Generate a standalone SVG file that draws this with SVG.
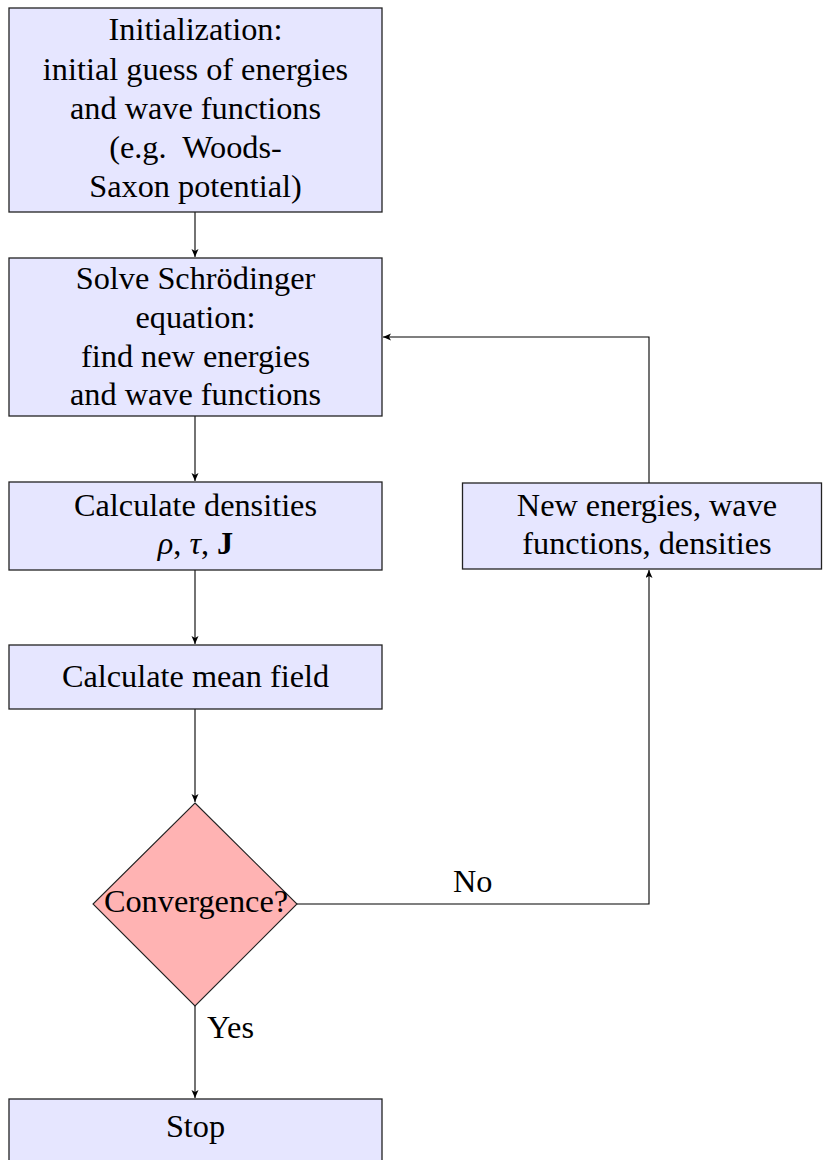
<svg xmlns="http://www.w3.org/2000/svg" width="823" height="1160" viewBox="0 0 823 1160">
<defs>
<marker id="arr" markerUnits="userSpaceOnUse" markerWidth="10" markerHeight="8" refX="8" refY="3.5" orient="auto">
<path d="M0,0 L8,3.5 L0,7 L2,3.5 z" fill="#000"/>
</marker>
<style>
.box{fill:#E6E6FF;stroke:#222;stroke-width:1.3}
.dia{fill:#FFB3B3;stroke:#222;stroke-width:1.1}
text{font-family:'Liberation Serif','Times New Roman',Times,serif;font-size:32.3px;fill:#000}
.t{text-anchor:middle}
.c{fill:none;stroke:#000;stroke-width:1.1}
</style>
</defs>
<rect width="823" height="1160" fill="#fff"/>
<g id="connectors">
<line class="c" x1="195" y1="212" x2="195" y2="257" marker-end="url(#arr)"/>
<line class="c" x1="195" y1="416" x2="195" y2="481" marker-end="url(#arr)"/>
<line class="c" x1="195" y1="570" x2="195" y2="644" marker-end="url(#arr)"/>
<line class="c" x1="195" y1="709" x2="195" y2="802" marker-end="url(#arr)"/>
<line class="c" x1="195" y1="1006" x2="195" y2="1098" marker-end="url(#arr)"/>
<polyline class="c" points="297,904 649,904 649,570" marker-end="url(#arr)"/>
<polyline class="c" points="649,483 649,337 383,337" marker-end="url(#arr)"/>
<text x="207" y="1038">Yes</text>
<text x="453" y="892">No</text>
</g>
<g id="init">
<rect class="box" x="9" y="8" width="373" height="204"/>
<text class="t" x="195.5" y="40">Initialization:</text>
<text class="t" x="195.5" y="79.5">initial guess of energies</text>
<text class="t" x="195.5" y="118.5">and wave functions</text>
<text class="t" x="195.5" y="157.5" xml:space="preserve">(e.g.  Woods-</text>
<text class="t" x="195.5" y="196.5">Saxon potential)</text>
</g>
<g id="solve">
<rect class="box" x="9" y="258" width="373" height="158"/>
<text class="t" x="195.5" y="289">Solve Schrödinger</text>
<text class="t" x="195.5" y="328">equation:</text>
<text class="t" x="195.5" y="367">find new energies</text>
<text class="t" x="195.5" y="405">and wave functions</text>
</g>
<g id="densities">
<rect class="box" x="9" y="482" width="373" height="88"/>
<text class="t" x="195.5" y="515.5">Calculate densities</text>
<text class="t" x="195.5" y="554"><tspan font-style="italic">ρ</tspan>, <tspan font-style="italic">τ</tspan>, <tspan font-weight="bold">J</tspan></text>
</g>
<g id="meanfield">
<rect class="box" x="9" y="645" width="373" height="64"/>
<text class="t" x="195.5" y="687">Calculate mean field</text>
</g>
<g id="newvals">
<rect class="box" x="462.5" y="483" width="359" height="86"/>
<text class="t" x="647" y="515.5">New energies, wave</text>
<text class="t" x="647" y="554">functions, densities</text>
</g>
<g id="convergence">
<polygon class="dia" points="195,803 297,904 195,1006 93,904"/>
<text class="t" x="196" y="912">Convergence?</text>
</g>
<g id="stop">
<rect class="box" x="9" y="1099" width="373" height="66"/>
<text class="t" x="195.5" y="1137">Stop</text>
</g>
</svg>
